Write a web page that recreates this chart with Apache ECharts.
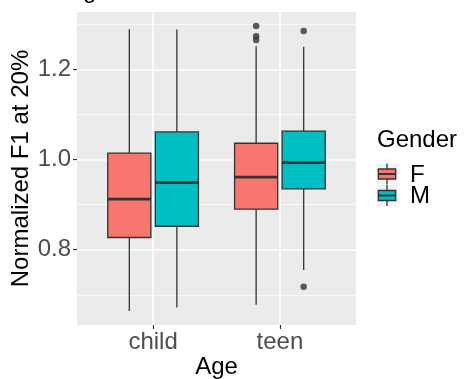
<!DOCTYPE html>
<html>
<head>
<meta charset="utf-8">
<script src="https://cdn.jsdelivr.net/npm/echarts@6/dist/echarts.min.js"></script>
<style>
html,body{margin:0;padding:0;background:#fff;}
#c{width:464px;height:379px;}
</style>
</head>
<body>
<div id="c"></div>
<script>
// ---- data ----
const categories = ['child', 'teen'];
const genders = ['F', 'M'];
const genderColors = ['#F8766D', '#00BFC4'];
// [lowerWhisker, Q1, median, Q3, upperWhisker] per category
const statsF = [[0.664, 0.827, 0.912, 1.014, 1.289], [0.678, 0.890, 0.961, 1.036, 1.251]];
const statsM = [[0.672, 0.852, 0.949, 1.061, 1.288], [0.755, 0.935, 0.993, 1.063, 1.250]];
// [categoryIndex, value]
const outliersF = [[1, 1.296], [1, 1.273], [1, 1.265]];
const outliersM = [[1, 1.285], [1, 0.718]];
const yMajorTicks = [0.8, 1.0, 1.2];
const yMinorTicks = [0.7, 0.9, 1.1, 1.3];
const yRange = [0.633, 1.327];
const xTitle = 'Age';
const yTitle = 'Normalized F1 at 20%';
const legendTitle = 'Gender';

const statsAll = [statsF, statsM];
const outliersAll = [outliersF, outliersM];
const dodge = 0.1875;
const halfBox = 0.17;
const FONT = 'Liberation Sans, Arial, sans-serif';

const chart = echarts.init(document.getElementById('c'), null, {renderer: 'canvas'});

function makeBoxSeries(gi) {
  const off = gi === 0 ? -dodge : dodge;
  const data = statsAll[gi].map((s, ci) => [ci + 1 + off].concat(s));
  return {
    type: 'custom',
    name: genders[gi],
    z: 3,
    data: data,
    encode: {x: 0, y: [1, 2, 3, 4, 5]},
    renderItem: function (params, api) {
      const x = api.value(0);
      const lo = api.coord([x, api.value(1)]);
      const q1 = api.coord([x, api.value(2)]);
      const md = api.coord([x, api.value(3)]);
      const q3 = api.coord([x, api.value(4)]);
      const hi = api.coord([x, api.value(5)]);
      const left = api.coord([x - halfBox, api.value(3)])[0];
      const right = api.coord([x + halfBox, api.value(3)])[0];
      const lineStyle = {stroke: '#333333', lineWidth: 1.3};
      return {
        type: 'group',
        children: [
          {type: 'line', shape: {x1: lo[0], y1: lo[1], x2: q1[0], y2: q1[1]}, style: lineStyle},
          {type: 'line', shape: {x1: q3[0], y1: q3[1], x2: hi[0], y2: hi[1]}, style: lineStyle},
          {type: 'rect', shape: {x: left, y: q3[1], width: right - left, height: q1[1] - q3[1]},
            style: {fill: genderColors[gi], stroke: '#333333', lineWidth: 1.3}},
          {type: 'line', shape: {x1: left, y1: md[1], x2: right, y2: md[1]},
            style: {stroke: '#333333', lineWidth: 2.8}}
        ]
      };
    }
  };
}

function makeOutlierSeries(gi) {
  const off = gi === 0 ? -dodge : dodge;
  return {
    type: 'scatter',
    name: genders[gi] + ' outliers',
    z: 4,
    symbol: 'circle',
    symbolSize: 6.5,
    itemStyle: {color: '#333333'},
    silent: true,
    data: outliersAll[gi].map(o => [o[0] + 1 + off, o[1]])
  };
}

// legend drawn with graphic elements
const legendGraphics = [];
legendGraphics.push({
  type: 'text', left: 377, top: 128,
  style: {text: legendTitle, font: '24px ' + FONT, fill: '#000'}
});
genders.forEach((g, i) => {
  const cy = 174 + i * 21.5;
  const kx = 376.5, ks = 21;
  legendGraphics.push({type: 'rect', shape: {x: kx, y: cy - ks / 2, width: ks, height: ks}, style: {fill: '#F2F2F2'}, z: 10});
  legendGraphics.push({type: 'line', shape: {x1: kx + ks / 2, y1: cy - ks / 2, x2: kx + ks / 2, y2: cy + ks / 2}, style: {stroke: '#333', lineWidth: 1.3}, z: 11});
  legendGraphics.push({type: 'rect', shape: {x: kx + 1.8, y: cy - 5, width: ks - 3.6, height: 10}, style: {fill: genderColors[i], stroke: '#333', lineWidth: 1.3}, z: 12});
  legendGraphics.push({type: 'line', shape: {x1: kx + 1.8, y1: cy, x2: kx + ks - 1.8, y2: cy}, style: {stroke: '#333', lineWidth: 2}, z: 13});
  legendGraphics.push({type: 'text', x: 410, y: cy + 1, style: {text: g, font: '24px ' + FONT, fill: '#000', verticalAlign: 'middle', align: 'left'}, z: 13});
});
// clipped descender of a title above the plot
legendGraphics.push({type: 'text', x: 83, y: 3, style: {text: 'g', font: '24px ' + FONT, fill: '#000', verticalAlign: 'bottom'}});

const option = {
  animation: false,
  backgroundColor: '#ffffff',
  textStyle: {fontFamily: FONT},
  grid: {left: 77, right: 108, top: 12, bottom: 54, show: true, backgroundColor: '#EBEBEB', borderWidth: 0,
    containLabel: false, outerBoundsMode: 'none'},
  xAxis: {
    type: 'value', min: 0.4, max: 2.6,
    name: xTitle, nameLocation: 'middle', nameGap: 30, nameMoveOverlap: false,
    nameTextStyle: {fontSize: 24, color: '#000', fontFamily: FONT},
    axisLine: {show: false},
    axisTick: {show: true, length: 4, customValues: [1, 2], lineStyle: {color: '#333', width: 1.2}},
    axisLabel: {customValues: [1, 2], margin: 5, fontSize: 24, color: '#4D4D4D', fontFamily: FONT,
      formatter: v => categories[Math.round(v) - 1]},
    splitLine: {show: true, lineStyle: {color: '#ffffff', width: 1.5}}
  },
  yAxis: [{
    type: 'value', min: yRange[0], max: yRange[1],
    name: yTitle, nameLocation: 'middle', nameGap: 44, nameRotate: 90, nameMoveOverlap: false,
    nameTextStyle: {fontSize: 24, color: '#000', fontFamily: FONT},
    axisLine: {show: false},
    axisTick: {show: true, length: 4, customValues: yMajorTicks, lineStyle: {color: '#333', width: 1.2}},
    axisLabel: {customValues: yMajorTicks, margin: 6, fontSize: 24, color: '#4D4D4D', fontFamily: FONT,
      formatter: v => v.toFixed(1)},
    splitLine: {show: true, lineStyle: {color: '#ffffff', width: 1.5}}
  }, {
    type: 'value', min: yRange[0], max: yRange[1], position: 'left',
    axisLine: {show: false},
    axisTick: {show: false, customValues: yMinorTicks},
    axisLabel: {show: false, customValues: yMinorTicks},
    splitLine: {show: true, lineStyle: {color: '#ffffff', width: 0.75}}
  }],
  series: [makeBoxSeries(0), makeBoxSeries(1), makeOutlierSeries(0), makeOutlierSeries(1)],
  graphic: legendGraphics
};
chart.setOption(option);
</script>
</body>
</html>
